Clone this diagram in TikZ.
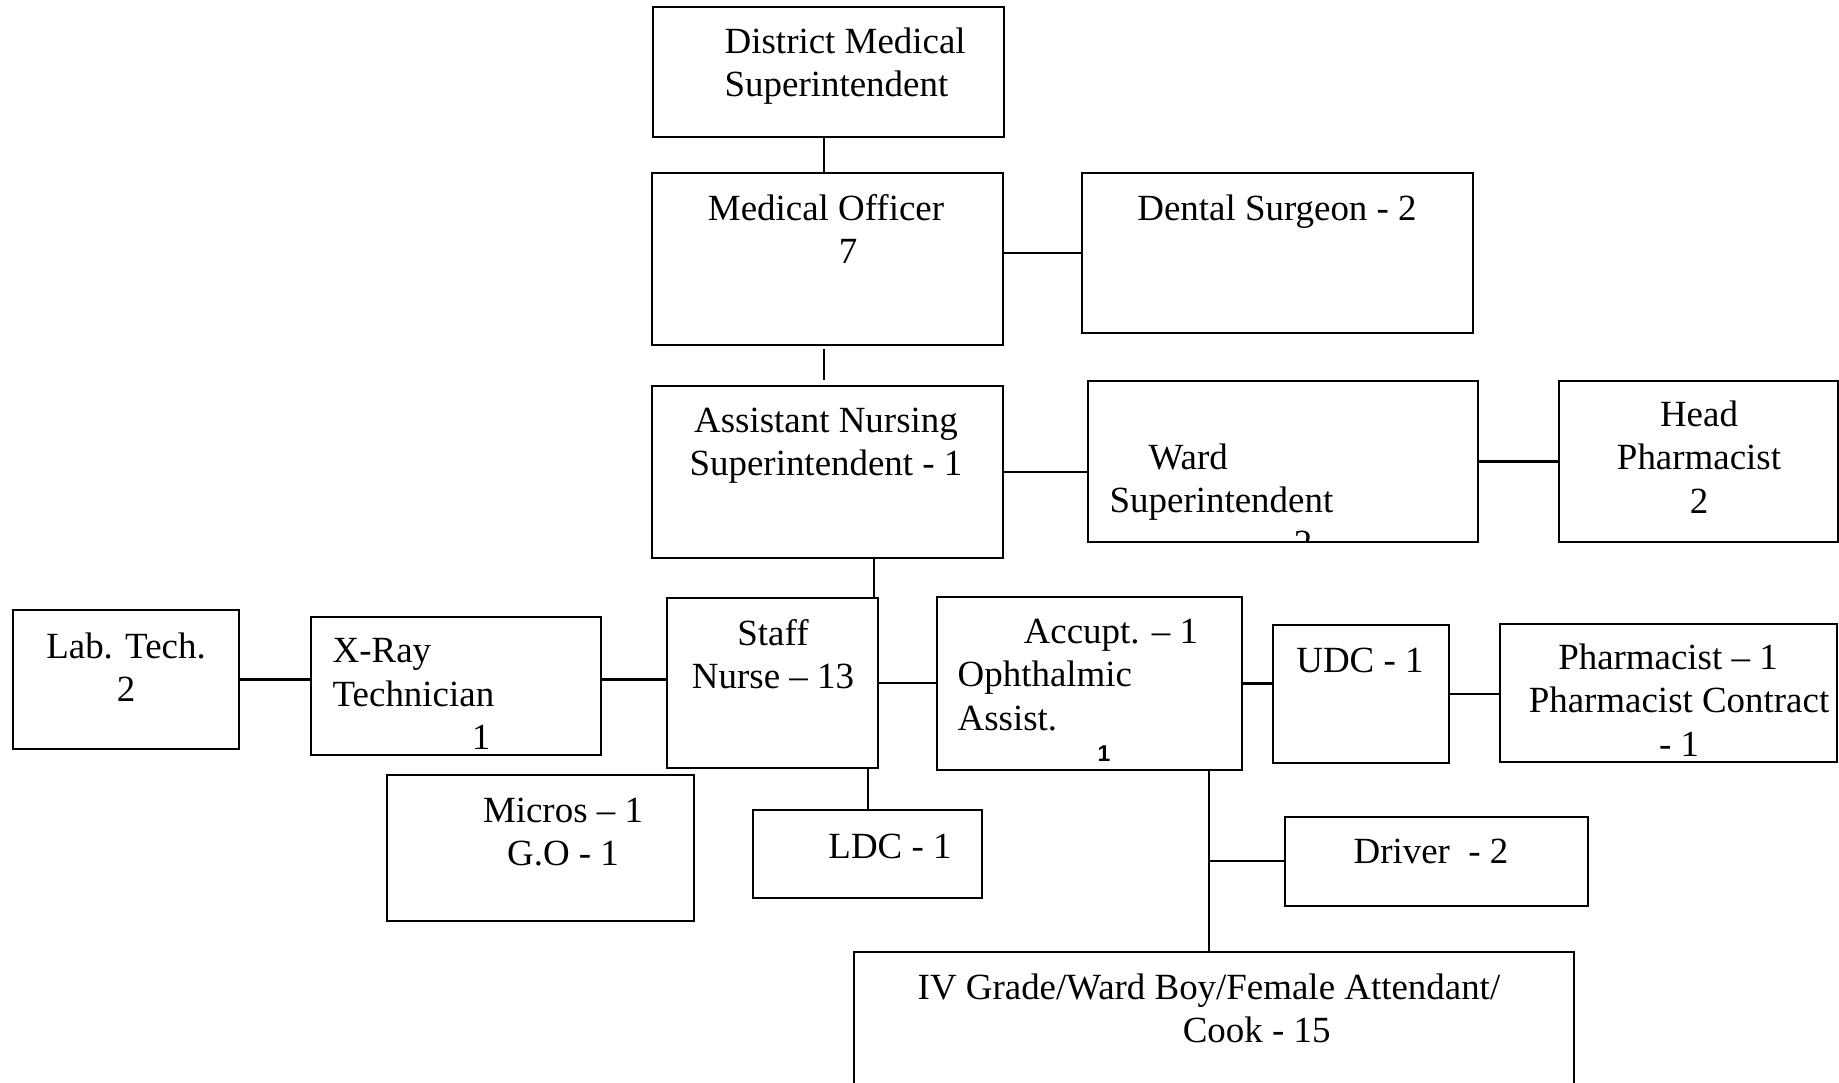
\documentclass[tikz,border=0pt]{standalone}
\usepackage{fontspec}
\setmainfont{Liberation Serif}
\newfontfamily\numfont{Liberation Sans}

\begin{document}
\begin{tikzpicture}[x=0.01cm, y=-0.01cm,
  box/.style={draw, line width=0.6pt, anchor=north west, inner sep=0pt, outer sep=0pt},
  lbl/.style={font=\fontsize{10.5}{12.3}\selectfont, inner sep=0pt, align=center},
  link/.style={line width=0.6pt}]

  \useasboundingbox (0,0) rectangle (1839,1083);

  % boxes, top left corner at (x,y)
  \node[box, minimum width=3.51cm, minimum height=1.30cm] (dms) at (653,7) {};
  \node[box, minimum width=3.51cm, minimum height=1.72cm] (mo) at (652,173) {};
  \node[box, minimum width=3.91cm, minimum height=1.60cm] (dental) at (1082,173) {};
  \node[box, minimum width=3.51cm, minimum height=1.72cm] (ans) at (652,386) {};
  \node[box, minimum width=3.90cm, minimum height=1.61cm] (ward) at (1088,381) {};
  \node[box, minimum width=2.79cm, minimum height=1.61cm] (headph) at (1559,381) {};
  \node[box, minimum width=2.26cm, minimum height=1.39cm] (labtech) at (13,610) {};
  \node[box, minimum width=2.90cm, minimum height=1.38cm] (xray) at (311,617) {};
  \node[box, minimum width=2.11cm, minimum height=1.70cm] (staff) at (667,598) {};
  \node[box, minimum width=3.05cm, minimum height=1.73cm] (accupt) at (937,597) {};
  \node[box, minimum width=1.76cm, minimum height=1.38cm] (udc) at (1273,625) {};
  \node[box, minimum width=3.37cm, minimum height=1.38cm] (pharm) at (1500,624) {};
  \node[box, minimum width=3.07cm, minimum height=1.46cm] (micros) at (387,775) {};
  \node[box, minimum width=2.29cm, minimum height=0.88cm] (ldc) at (753,810) {};
  \node[box, minimum width=3.03cm, minimum height=0.89cm] (driver) at (1285,817) {};
  \node[box, minimum width=7.20cm, minimum height=1.50cm] (ivgrade) at (854,952) {};

  % texts
  \node[lbl, align=left, anchor=west] (dmstext) at (724,66) {District Medical\\Superintendent};
  \node[lbl] (motext) at (826,229) {Medical Officer\\\hspace*{0.44cm}7};
  \node[lbl] (dentaltext) at (1277,212) {Dental Surgeon - 2};
  \node[lbl] (anstext) at (826,446) {Assistant Nursing\\Superintendent - 1};
  \node[lbl, align=left, anchor=west] (wardtext) at (1109,482) {\hspace*{0.39cm}Ward\\Superintendent};
  \begin{scope}
    \clip (ward.south west) rectangle (ward.north east);
    \node[lbl, anchor=base] (wardnum) at (1303,556) {2};
  \end{scope}
  \node[lbl] (headphtext) at (1699,457) {Head\\Pharmacist\\2};
  \node[lbl] (labtext) at (126,667) {Lab. Tech.\\2};
  \node[lbl, align=left, anchor=west] (xraytext) at (332,694) {X-Ray\\Technician\\\hspace*{1.39cm}1};
  \node[lbl] (stafftext) at (773,654) {Staff\\Nurse – 13};
  \node[lbl, align=left, anchor=west] (accupttext) at (957,675) {\hspace*{0.66cm}Accupt. – 1\\Ophthalmic\\Assist.};
  \node[inner sep=0pt, font={\fontsize{6.5}{7}\numfont\bfseries}] (accnum) at (1104,754) {1};
  \node[lbl] (udctext) at (1360,660) {UDC - 1};
  \node[lbl] (pharmtext) at (1679,700) {Pharmacist – 1\hspace*{0.22cm}\\Pharmacist Contract\\- 1};
  \node[lbl] (microstext) at (563,832) {Micros – 1\\G.O - 1};
  \node[lbl] (ldctext) at (890,846) {LDC - 1};
  \node[lbl] (drivertext) at (1431,851) {Driver\ \ - 2};
  \node[lbl, align=left, anchor=west] (ivtext) at (917,1008) {IV Grade/Ward Boy/Female Attendant/\\\hspace*{2.65cm}Cook - 15};

  % links
  \coordinate (ansdrop) at (874,0);
  \coordinate (trunk) at (1209,861);
  \coordinate (upper) at (824,0);
  \draw[link] (dms.south -| upper) -- (mo.north -| upper);
  \draw[link, shorten <=0.04cm, shorten >=0.06cm] (mo.south -| upper) -- (ans.north -| upper);
  \draw[link] (mo.east |- dental.west) -- (dental.west);
  \draw[link] (ans.east) -- (ans.east -| ward.west);
  \draw[link] (ward.east) -- (headph.west);
  \draw[link] (ans.south -| ansdrop) -- (staff.north -| ansdrop);
  \draw[link] (labtech.east) -- (labtech.east -| xray.west);
  \draw[link] (xray.east |- labtech.east) -- (staff.west |- labtech.east);
  \draw[link] (staff.east) -- (staff.east -| accupt.west);
  \draw[link] (accupt.east) -- (accupt.east -| udc.west);
  \draw[link] (udc.east) -- (udc.east -| pharm.west);
  \draw[link] (ldc.north) -- (ldc.north |- staff.south);
  \draw[link] (trunk |- accupt.south) -- (trunk |- ivgrade.north);
  \draw[link] (trunk) -- (trunk -| driver.west);

\end{tikzpicture}
\end{document}
